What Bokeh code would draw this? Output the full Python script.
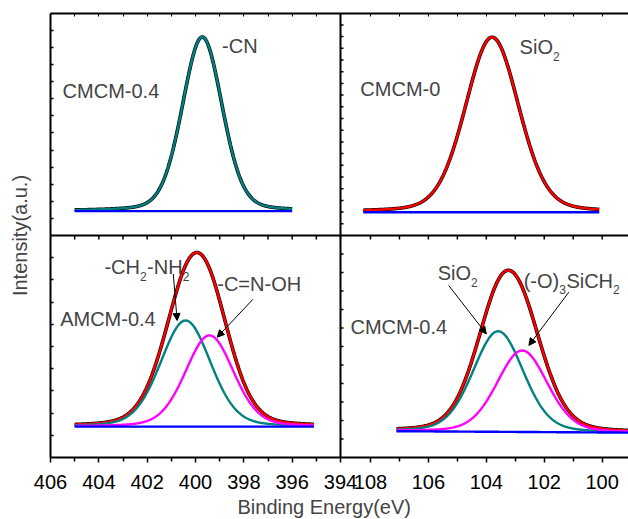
import numpy as np
from bokeh.plotting import figure
from bokeh.models import Range1d, FixedTicker, Span, Label, Arrow, NormalHead, LinearAxis, Title
from bokeh.embed import file_html
from bokeh.resources import INLINE

# ---------------- data ----------------
left_major = [406, 404, 402, 400, 398, 396, 394]
left_minor = [405, 403, 401, 399, 397, 395]
right_major = [108, 106, 104, 102, 100]
right_minor = [107, 105, 103, 101]

# Top-left: CMCM-0.4, N 1s (-CN)
tl_span = [405.0, 396.0]
tl_base = [11.0, 11.0]
tl_center = [399.72]
tl_height = [78.4]
tl_fwhm = [1.95]

# Top-right: CMCM-0, Si 2p (SiO2)
tr_span = [108.25, 100.1]
tr_base = [10.5, 10.5]
tr_center = [103.8]
tr_height = [78.8]
tr_fwhm = [2.18]

# Bottom-left: AMCM-0.4, N 1s (-CH2-NH2, -C=N-OH)
bl_span = [405.0, 395.1]
bl_base = [13.9, 13.9]
bl_center = [400.41, 399.42]
bl_height = [47.8, 41.1]
bl_fwhm = [2.45, 2.35]

# Bottom-right: CMCM-0.4, Si 2p (SiO2, (-O)3SiCH2)
br_span = [107.1, 99.0]
br_base = [11.85, 11.2]
br_center = [103.59, 102.76]
br_height = [45.3, 36.7]
br_fwhm = [2.05, 2.05]

# unlabeled intensity-tick spacing of each panel (panel a.u.)
tl_ystep, tr_ystep, bl_ystep, br_ystep = 7.7, 5.27, 10.0, 8.33

gl_mix = 0.2

FONT = "Liberation Sans"
TEAL = "#008080"
MAGENTA = "#FF00FF"
RED = "#FF0000"
BLUE = "#0000FF"


def pvoigt(x, c, h, w):
    d = (x - c) ** 2 / w ** 2
    return h * ((1 - gl_mix) * np.exp(-4 * np.log(2) * d) + gl_mix / (1 + 4 * d))


def panel_curves(span, base, centers, heights, fwhms):
    x = np.linspace(span[0], span[1], 500)
    b = base[0] + (base[1] - base[0]) * (x - span[0]) / (span[1] - span[0])
    comps = [b + pvoigt(x, c, h, w) for c, h, w in zip(centers, heights, fwhms)]
    env = b + sum(pvoigt(x, c, h, w) for c, h, w in zip(centers, heights, fwhms))
    return x, b, comps, env


FRAME_W, FRAME_H = 578, 444
x_left = Range1d(406, 382.083)
x_right = Range1d(119.05, 99.09)
y_bot = Range1d(0, 200)
y_top = Range1d(-100, 100)

p = figure(frame_width=FRAME_W, frame_height=FRAME_H, x_range=x_left, y_range=y_bot,
           output_backend="svg", toolbar_location=None,
           min_border_left=50, min_border_right=0, min_border_top=13, min_border_bottom=62)
p.extra_x_ranges = {"xr": x_right}
p.extra_y_ranges = {"yt": y_top}
p.outline_line_color = None
p.grid.visible = False
p.background_fill_color = "white"


def draw(xname, yname, span, base, centers, heights, fwhms, env_color, comp_colors):
    x, b, comps, env = panel_curves(span, base, centers, heights, fwhms)
    kw = dict(x_range_name=xname, y_range_name=yname)
    p.line(x, env, line_color="black", line_width=3.6, **kw)
    p.line(x, env, line_color=env_color, line_width=2.4, **kw)
    for cy, col in zip(comps, comp_colors):
        p.line(x, cy, line_color=col, line_width=2.4, **kw)
    p.line(x, b, line_color=BLUE, line_width=2.4, **kw)


draw("default", "yt", tl_span, tl_base, tl_center, tl_height, tl_fwhm, TEAL, [])
draw("xr", "yt", tr_span, tr_base, tr_center, tr_height, tr_fwhm, RED, [])
draw("default", "default", bl_span, bl_base, bl_center, bl_height, bl_fwhm, RED, [TEAL, MAGENTA])
draw("xr", "default", br_span, br_base, br_center, br_height, br_fwhm, RED, [TEAL, MAGENTA])


# ---- x axes: one shared axis carrying both columns' tick labels ----
def to_default(v):
    f = (v - x_right.start) / (x_right.end - x_right.start)
    return round(x_left.start + f * (x_left.end - x_left.start), 4)


major = list(left_major) + [to_default(v) for v in right_major]
minor = list(left_minor) + [to_default(v) for v in right_minor]
overrides = {v: str(v) for v in left_major}
overrides.update({to_default(v): str(v) for v in right_major})

xb = p.xaxis[0]
xb.ticker = FixedTicker(ticks=major, minor_ticks=minor)
xb.major_label_overrides = overrides
xb.major_label_text_font = FONT
xb.major_label_text_font_size = "20px"
xb.major_label_text_color = "black"
xb.major_label_standoff = 12
xb.axis_line_width = 2
xb.major_tick_out = 5
xb.major_tick_in = 0
xb.minor_tick_out = 4
xb.minor_tick_in = 0
xb.major_tick_line_width = 1.5
xb.minor_tick_line_width = 1.5

xt = LinearAxis(ticker=FixedTicker(ticks=major, minor_ticks=minor),
                major_label_text_font_size="1px", major_label_text_color=None,
                major_label_standoff=0,
                axis_line_width=2, major_tick_in=3, major_tick_out=0,
                minor_tick_in=3, minor_tick_out=0,
                major_tick_line_width=1, minor_tick_line_width=1)
p.add_layout(xt, "above")

# ---- y axis (no labels) ----
y_ticks = [round(bl_ystep * k, 3) for k in range(1, 10)] + \
          [round(100 + tl_ystep * k, 3) for k in range(1, 13)]
ya = p.yaxis[0]
ya.ticker = FixedTicker(ticks=y_ticks, minor_ticks=[])
ya.major_label_text_font_size = "1px"
ya.major_label_text_color = None
ya.major_label_standoff = 0
ya.axis_line_width = 2
ya.major_tick_in = 3
ya.major_tick_out = 0
ya.major_tick_line_width = 1.5
ya.axis_label = "Intensity(a.u.)"
ya.axis_label_text_font = FONT
ya.axis_label_text_font_size = "20px"
ya.axis_label_text_font_style = "normal"
ya.axis_label_standoff = 20

# panel dividers
p.add_layout(Span(location=394, dimension="height", line_color="black", line_width=2))
p.add_layout(Span(location=100, dimension="width", line_color="black", line_width=2))

# ticks on the dividers (same tick positions as the outer axes)
px_x = FRAME_W / abs(x_left.end - x_left.start)
px_y = FRAME_H / (y_bot.end - y_bot.start)
all_x_ticks = major + minor
p.segment(x0=all_x_ticks, x1=all_x_ticks, y0=[100] * len(all_x_ticks),
          y1=[100 - 4 / px_y] * len(all_x_ticks), line_color="black", line_width=1.5)
right_y = [round(100 + tr_ystep * k, 3) for k in range(1, 19)] + \
          [round(br_ystep * k, 3) for k in range(1, 12)]
p.segment(x0=[394] * len(right_y), x1=[394 - 3 / px_x] * len(right_y), y0=right_y, y1=right_y,
          line_color="black", line_width=1.5)

# x title
p.add_layout(Title(text="Binding Energy(eV)", text_font=FONT, text_font_size="20px",
                   text_font_style="normal", align="left", offset=187,
                   vertical_align="top", standoff=8), "below")

# ---- annotations ----
W = {'-': 333, 'C': 722, 'H': 722, 'N': 722, 'O': 778, '(': 333, ')': 333,
     'S': 667, 'i': 222, '2': 556, '3': 556, '=': 584, 'M': 833, 'A': 667,
     '0': 556, '.': 278, '4': 556}


def rich(parts, x, y, xr="default", yr="default"):
    off = 0.0
    for txt, sub in parts:
        size = 12 if sub else 20
        p.add_layout(Label(x=x, y=y, x_offset=off, y_offset=-9 if sub else 0, text=txt,
                           text_font=FONT, text_font_size=f"{size}px",
                           text_baseline="middle", text_align="left",
                           x_range_name=xr, y_range_name=yr))
        off += sum(W[c] for c in txt) / 1000 * size + (0.5 if sub else 0)


rich([("CMCM-0.4", False)], 405.5, 65.3, "default", "yt")
rich([("-CN", False)], 398.9, 85.3, "default", "yt")
rich([("CMCM-0", False)], 108.35, 66.2, "xr", "yt")
rich([("SiO", False), ("2", True)], 102.85, 84.8, "xr", "yt")
rich([("-CH", False), ("2", True), ("-NH", False), ("2", True)], 403.77, 85.7)
rich([("-C=N-OH", False)], 399.1, 78.2)
rich([("AMCM-0.4", False)], 405.6, 62.2)
rich([("SiO", False), ("2", True)], 105.68, 82.9, "xr")
rich([("(-O)", False), ("3", True), ("SiCH", False), ("2", True)], 102.71, 79.7, "xr")
rich([("CMCM-0.4", False)], 108.69, 58.7, "xr")

for (x0, y0, x1, y1, xr) in [(400.92, 82.7, 400.76, 61.7, "default"),
                             (397.63, 71.2, 399.1, 54.2, "default"),
                             (105.3, 77.5, 104.0, 55.7, "xr"),
                             (101.15, 74.5, 102.53, 50.5, "xr")]:
    p.add_layout(Arrow(x_start=x0, y_start=y0, x_end=x1, y_end=y1, x_range_name=xr,
                       line_color="black", line_width=1,
                       end=NormalHead(size=7, fill_color="black", line_color="black")))

open("out.html", "w").write(file_html(p, INLINE))
